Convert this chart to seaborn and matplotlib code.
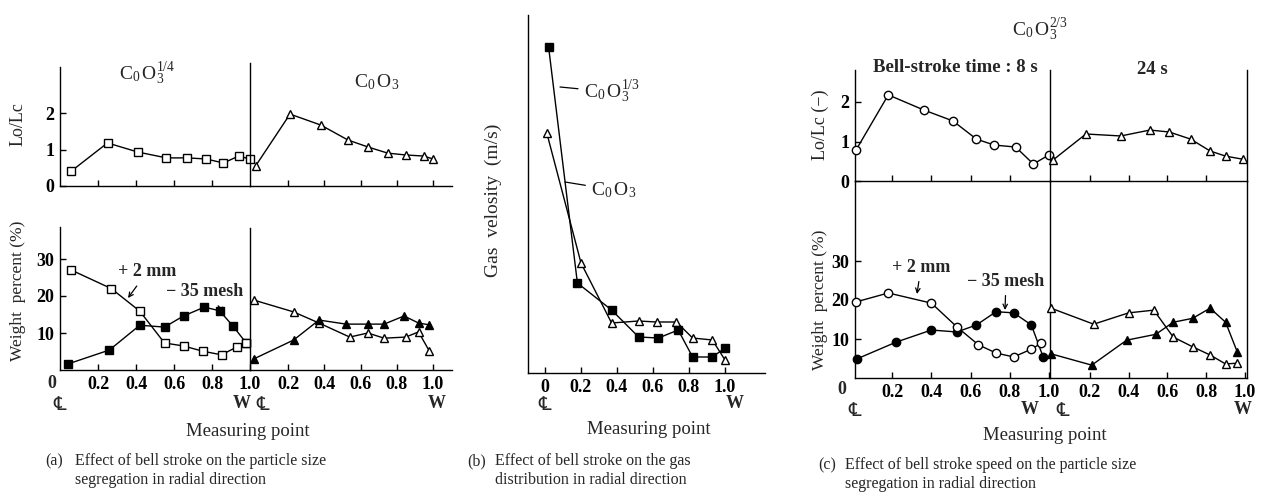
import matplotlib
matplotlib.use("Agg")
import matplotlib.pyplot as plt
import seaborn as sns

W, H = 1266, 500

# ---------------- data ----------------
# (a) Lo/Lc  -- left: Co O3^(1/4) (open squares), right: Co O3 (open triangles)
a_lo_left_x = [0.06, 0.25, 0.41, 0.56, 0.67, 0.77, 0.86, 0.94, 1.00]
a_lo_left_y = [0.41, 1.18, 0.93, 0.77, 0.77, 0.74, 0.63, 0.82, 0.74]
a_lo_right_x = [0.02, 0.21, 0.38, 0.53, 0.64, 0.75, 0.85, 0.95, 1.00]
a_lo_right_y = [0.55, 1.97, 1.67, 1.26, 1.07, 0.90, 0.85, 0.82, 0.74]
# (a) weight percent
a_plus2_left_x = [0.06, 0.27, 0.42, 0.55, 0.65, 0.75, 0.85, 0.93, 0.98]
a_plus2_left_y = [27.0, 22.0, 15.9, 7.3, 6.5, 5.1, 4.1, 6.2, 7.3]
a_mesh_left_x = [0.04, 0.26, 0.42, 0.55, 0.65, 0.76, 0.84, 0.91, 0.98]
a_mesh_left_y = [1.6, 5.4, 12.1, 11.6, 14.6, 17.0, 16.0, 11.9, 7.3]
a_plus2_right_x = [0.01, 0.23, 0.37, 0.54, 0.64, 0.73, 0.85, 0.92, 0.98]
a_plus2_right_y = [18.9, 15.7, 12.7, 8.9, 10.0, 8.6, 8.9, 10.3, 5.1]
a_mesh_right_x = [0.01, 0.23, 0.37, 0.52, 0.64, 0.73, 0.84, 0.92, 0.98]
a_mesh_right_y = [3.0, 8.1, 13.5, 12.4, 12.4, 12.4, 14.6, 12.7, 12.2]

# (b) gas velocity (no scale given on the axis)
b_third_x = [0.02, 0.18, 0.37, 0.52, 0.63, 0.74, 0.82, 0.93, 1.00]
b_third_y = [32.6, 9.0, 6.3, 3.6, 3.5, 4.3, 1.6, 1.6, 2.5]
b_full_x = [0.01, 0.20, 0.37, 0.52, 0.62, 0.73, 0.82, 0.93, 1.00]
b_full_y = [24.0, 11.0, 5.0, 5.2, 5.1, 5.1, 3.5, 3.3, 1.3]

# (c) Lo/Lc  -- left: 8 s (open circles), right: 24 s (open triangles)
c_lo_left_x = [0.015, 0.18, 0.36, 0.51, 0.63, 0.72, 0.83, 0.92, 1.00]
c_lo_left_y = [0.78, 2.18, 1.80, 1.52, 1.06, 0.91, 0.86, 0.43, 0.66]
c_lo_right_x = [0.01, 0.18, 0.36, 0.51, 0.61, 0.72, 0.82, 0.90, 0.99]
c_lo_right_y = [0.53, 1.19, 1.14, 1.29, 1.24, 1.06, 0.76, 0.63, 0.55]
# (c) weight percent
c_plus2_left_x = [0.015, 0.18, 0.40, 0.53, 0.64, 0.73, 0.82, 0.91, 0.96]
c_plus2_left_y = [19.5, 21.8, 19.2, 13.1, 8.5, 6.4, 5.4, 7.4, 8.9]
c_mesh_left_x = [0.02, 0.22, 0.40, 0.53, 0.63, 0.73, 0.82, 0.91, 0.97]
c_mesh_left_y = [4.9, 9.2, 12.3, 11.8, 13.6, 17.0, 16.7, 13.6, 5.4]
c_plus2_right_x = [0.0, 0.22, 0.40, 0.53, 0.63, 0.73, 0.82, 0.90, 0.96]
c_plus2_right_y = [17.9, 13.8, 16.7, 17.4, 10.5, 8.0, 5.9, 3.6, 3.8]
c_mesh_right_x = [0.0, 0.21, 0.39, 0.54, 0.63, 0.73, 0.82, 0.90, 0.96]
c_mesh_right_y = [6.2, 3.3, 9.7, 11.2, 14.3, 15.3, 17.9, 14.3, 6.7]

pos_ticks = [0.2, 0.4, 0.6, 0.8, 1.0]
pos_labels = ["0.2", "0.4", "0.6", "0.8", "1.0"]
b_ticks = [0, 0.2, 0.4, 0.6, 0.8, 1.0]
b_labels = ["0", "0.2", "0.4", "0.6", "0.8", "1.0"]
lo_ticks = [0, 1, 2]
wt_ticks = [10, 20, 30]

# ---------------- style ----------------
sns.set_theme(style="ticks")
plt.rcParams['font.family'] = ['Liberation Serif', 'DejaVu Serif', 'DejaVu Sans']
plt.rcParams['mathtext.fontset'] = 'custom'
plt.rcParams['mathtext.rm'] = 'Liberation Serif'
plt.rcParams['mathtext.it'] = 'Liberation Serif:italic'
plt.rcParams['mathtext.bf'] = 'Liberation Serif:bold'

fig = plt.figure(figsize=(W / 100, H / 100), dpi=100)
fig.patch.set_facecolor('white')


def add_ax(l, t, r, b, right=False):
    ax = fig.add_axes([l / W, 1 - b / H, (r - l) / W, (b - t) / H])
    ax.set_facecolor('none')
    for s in ax.spines.values():
        s.set_color('black')
        s.set_linewidth(1.0)
    ax.spines['top'].set_visible(False)
    ax.spines['right'].set_visible(right)
    ax.tick_params(direction='in', length=4, width=1, colors='black', pad=4,
                   labelsize=13, top=False, right=False)
    return ax


def set_x(ax, ticks, labels=None):
    ax.set_xticks(ticks)
    if labels is None:
        ax.set_xticklabels([])
    else:
        ax.set_xticklabels(labels, fontweight='bold', fontsize=13)


def set_y(ax, ticks, labels=None):
    ax.set_yticks(ticks)
    if labels is None:
        ax.tick_params(left=False, labelleft=False)
    else:
        ax.set_yticklabels(labels, fontweight='bold', fontsize=13)


def series(ax, x, y, marker, filled, z=3, ms=6):
    sns.lineplot(x=x, y=y, ax=ax, color='black', linewidth=1.0, marker=marker,
                 markersize=ms, markerfacecolor='black' if filled else 'white',
                 markeredgecolor='black', markeredgewidth=1.0, estimator=None,
                 sort=False, legend=False, clip_on=False, zorder=z)
    ax.set_xlabel('')
    ax.set_ylabel('')


def ftext(x, y, s, **kw):
    kw.setdefault('ha', 'center')
    kw.setdefault('va', 'center')
    fig.text(x / W, 1 - y / H, s, **kw)


def pointer(s, xy, xyt, style='->', **kw):
    fig.add_artist(plt.Annotation(s, xy=(xy[0], H - xy[1]), xycoords='figure pixels',
                                  xytext=(xyt[0], H - xyt[1]), textcoords='figure pixels',
                                  arrowprops=dict(arrowstyle=style, color='black', lw=0.9,
                                                  shrinkA=2, shrinkB=0, mutation_scale=8),
                                  **kw))


def cl_w(x_cl, x_w, y=404):
    ftext(x_cl, y, "\u2104", fontsize=14, family=['DejaVu Sans'])
    ftext(x_w, y, "W", fontsize=13, fontweight='bold')


# ---------------- panel (a) ----------------
a_xl_left = (0.0, 1.0)
a_xl_right = ((250 - 252) / 181, (452 - 252) / 181)

a_tl = add_ax(60, 67, 250, 186)
a_tl.set_xlim(*a_xl_left); a_tl.set_ylim(0, (186 - 67) / 36.5)
series(a_tl, a_lo_left_x, a_lo_left_y, 's', False)
set_x(a_tl, [0.2, 0.4, 0.6, 0.8]); set_y(a_tl, lo_ticks, ["0", "1", "2"])

a_tr = add_ax(250, 63, 452, 186)
a_tr.set_xlim(*a_xl_right); a_tr.set_ylim(0, (186 - 63) / 36.5)
series(a_tr, a_lo_right_x, a_lo_right_y, '^', False)
set_x(a_tr, pos_ticks); set_y(a_tr, [])

a_bl = add_ax(60, 227, 250, 370)
a_bl.set_xlim(*a_xl_left); a_bl.set_ylim(0, (370 - 227) / 3.7)
series(a_bl, a_mesh_left_x, a_mesh_left_y, 's', True, z=3)
series(a_bl, a_plus2_left_x, a_plus2_left_y, 's', False, z=4)
set_x(a_bl, pos_ticks, pos_labels); set_y(a_bl, wt_ticks, ["10", "20", "30"])

a_br = add_ax(250, 228, 452, 370)
a_br.set_xlim(*a_xl_right); a_br.set_ylim(0, (370 - 228) / 3.7)
series(a_br, a_plus2_right_x, a_plus2_right_y, '^', False, z=3)
series(a_br, a_mesh_right_x, a_mesh_right_y, '^', True, z=4)
set_x(a_br, pos_ticks, pos_labels); set_y(a_br, [])

ftext(52, 383, "0", fontsize=13, fontweight='bold')
cl_w(60, 242)
cl_w(263, 437)
ftext(18, 124, "Lo/Lc", fontsize=13, rotation=90)
ftext(18, 291, "Weight  percent (%)", fontsize=12.5, rotation=90)
ftext(147, 74, r"$\mathrm{C_0\,O_3^{1/4}}$", fontsize=14)
ftext(377, 82, r"$\mathrm{C_0\,O_3}$", fontsize=14)
pointer("+ 2 mm", (128, 298), (147, 272), fontsize=13, fontweight='bold',
        ha='center', va='center')
pointer("\u2212 35 mesh", (225, 313), (205, 292), fontsize=13, fontweight='bold',
        ha='center', va='center')
ftext(248, 432, "Measuring point", fontsize=13.5)

# ---------------- panel (b) ----------------
b_ax = add_ax(528, 15, 765, 373)
b_ax.set_xlim((528 - 545) / 180, (765 - 545) / 180); b_ax.set_ylim(0, (373 - 15) / 10)
series(b_ax, b_full_x, b_full_y, '^', False, z=3)
series(b_ax, b_third_x, b_third_y, 's', True, z=4)
set_x(b_ax, b_ticks, b_labels); set_y(b_ax, [])
cl_w(545, 735)
ftext(493, 200, "Gas  velosity  (m/s)", fontsize=14, rotation=90)
pointer(r"$\mathrm{C_0\,O_3^{1/3}}$", (560, 87), (612, 92), style='-', fontsize=14,
        ha='center', va='center')
pointer(r"$\mathrm{C_0\,O_3}$", (565, 182), (614, 190), style='-', fontsize=14,
        ha='center', va='center')
ftext(649, 429, "Measuring point", fontsize=13.5)

# ---------------- panel (c) ----------------
c_xl_left = ((855 - 853) / 196, (1050 - 853) / 196)
c_xl_right = ((1050 - 1051) / 194, (1247 - 1051) / 194)

c_tl = add_ax(855, 70, 1050, 181)
c_tl.set_xlim(*c_xl_left); c_tl.set_ylim(0, (181 - 70) / 39.5)
series(c_tl, c_lo_left_x, c_lo_left_y, 'o', False)
set_x(c_tl, [0.2, 0.4, 0.6, 0.8]); set_y(c_tl, lo_ticks, ["0", "1", "2"])

c_tr = add_ax(1050, 70, 1247, 181, right=True)
c_tr.set_xlim(*c_xl_right); c_tr.set_ylim(0, (181 - 70) / 39.5)
series(c_tr, c_lo_right_x, c_lo_right_y, '^', False)
set_x(c_tr, [0.2, 0.4, 0.6, 0.8]); set_y(c_tr, [])

c_bl = add_ax(855, 181, 1050, 378)
c_bl.set_xlim(*c_xl_left); c_bl.set_ylim(0, (378 - 181) / 3.9)
series(c_bl, c_mesh_left_x, c_mesh_left_y, 'o', True, z=3)
series(c_bl, c_plus2_left_x, c_plus2_left_y, 'o', False, z=4)
set_x(c_bl, pos_ticks, pos_labels); set_y(c_bl, wt_ticks, ["10", "20", "30"])

c_br = add_ax(1050, 181, 1247, 378, right=True)
c_br.set_xlim(*c_xl_right); c_br.set_ylim(0, (378 - 181) / 3.9)
series(c_br, c_plus2_right_x, c_plus2_right_y, '^', False, z=3)
series(c_br, c_mesh_right_x, c_mesh_right_y, '^', True, z=4)
set_x(c_br, pos_ticks, pos_labels); set_y(c_br, [])

ftext(842, 389, "0", fontsize=13, fontweight='bold')
cl_w(855, 1030, y=410)
cl_w(1063, 1243, y=410)
ftext(1040, 30, r"$\mathrm{C_0\,O_3^{2/3}}$", fontsize=14)
ftext(955, 68, "Bell-stroke time : 8 s", fontsize=13.5, fontweight='bold')
ftext(1152, 70, "24 s", fontsize=13.5, fontweight='bold')
ftext(820, 125, "Lo/Lc (\u2212)", fontsize=13, rotation=90)
ftext(820, 300, "Weight  percent (%)", fontsize=12.5, rotation=90)
pointer("+ 2 mm", (917, 294), (921, 267), fontsize=13, fontweight='bold',
        ha='center', va='center')
pointer("\u2212 35 mesh", (1005, 310), (1006, 281), fontsize=13, fontweight='bold',
        ha='center', va='center')
ftext(1045, 436, "Measuring point", fontsize=13.5)

# ---------------- captions ----------------
cap = 11.5
ftext(45, 461, "(a)", fontsize=cap, ha='left')
ftext(75, 461, "Effect of bell stroke on the particle size", fontsize=cap, ha='left')
ftext(75, 480, "segregation in radial direction", fontsize=cap, ha='left')
ftext(467, 461, "(b)", fontsize=cap, ha='left')
ftext(495, 461, "Effect of bell stroke on the gas", fontsize=cap, ha='left')
ftext(495, 480, "distribution in radial direction", fontsize=cap, ha='left')
ftext(818, 465, "(c)", fontsize=cap, ha='left')
ftext(845, 465, "Effect of bell stroke speed on the particle size", fontsize=cap, ha='left')
ftext(845, 484, "segregation in radial direction", fontsize=cap, ha='left')

fig.savefig("out.png", dpi=100)
